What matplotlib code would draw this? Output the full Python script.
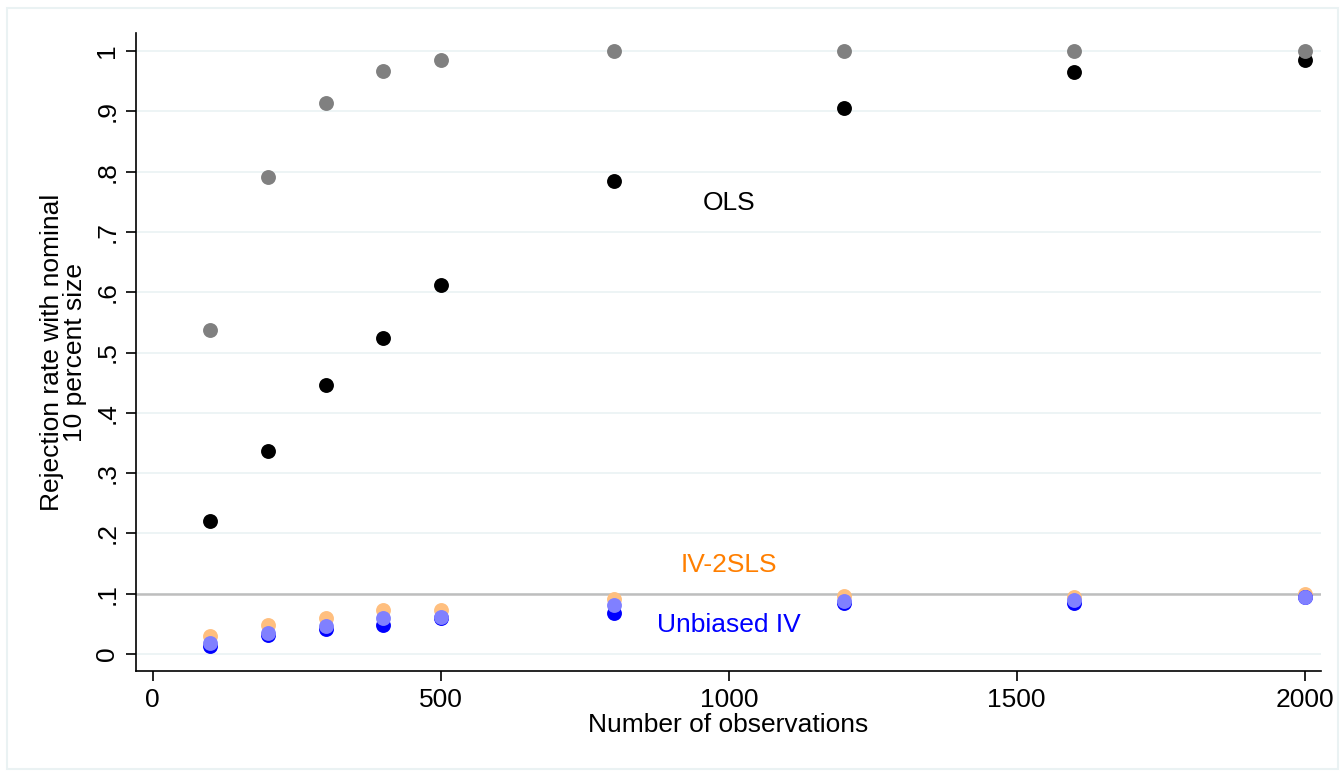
import matplotlib
matplotlib.use("Agg")
import matplotlib.pyplot as plt
from matplotlib.patches import Rectangle

plt.rcParams["font.family"] = ["Liberation Sans", "DejaVu Sans"]

n_obs = [100, 200, 300, 400, 500, 800, 1200, 1600, 2000]

ols_strong = [0.537, 0.791, 0.914, 0.967, 0.985, 1.0, 1.0, 1.0, 1.0]
ols = [0.221, 0.337, 0.446, 0.524, 0.612, 0.784, 0.905, 0.965, 0.985]
iv_2sls = [0.030, 0.049, 0.060, 0.073, 0.073, 0.092, 0.096, 0.095, 0.100]
unbiased_iv = [0.013, 0.031, 0.041, 0.049, 0.060, 0.068, 0.084, 0.085, 0.094]
unbiased_iv2 = [0.019, 0.035, 0.046, 0.060, 0.061, 0.081, 0.088, 0.089, 0.095]

y_ticks = [0, 0.1, 0.2, 0.3, 0.4, 0.5, 0.6, 0.7, 0.8, 0.9, 1.0]
y_labels = ["0", ".1", ".2", ".3", ".4", ".5", ".6", ".7", ".8", ".9", "1"]
x_ticks = [0, 500, 1000, 1500, 2000]


def main():
    fig = plt.figure(figsize=(13.41, 7.71), dpi=100)
    ax = fig.add_axes([0.1014, 0.1297, 0.8837, 0.8275])

    # stata-ish outer frame
    fig.patches.append(Rectangle((0.005, 0.003), 0.993, 0.987, transform=fig.transFigure,
                                 fill=False, edgecolor="#EAF2F3", lw=1.5))

    for t in y_ticks:
        ax.axhline(t, color="#EAF2F3", lw=1.2, zorder=0)
    ax.axhline(0.1, color="#BEBEBE", lw=1.8, zorder=1)

    s = 115
    ax.scatter(n_obs, ols_strong, s=s, color="#808080", lw=0, zorder=3)
    ax.scatter(n_obs, ols, s=s, color="black", lw=0, zorder=2)
    ax.scatter(n_obs, iv_2sls, s=s, color="#FFBF7F", lw=0, zorder=3)
    ax.scatter(n_obs, unbiased_iv, s=s, color="#0000FF", lw=0, zorder=4)
    ax.scatter(n_obs, unbiased_iv2, s=s, color="#8080FF", lw=0, zorder=5)

    fs = 19
    ax.text(1000, 0.748, "OLS", fontsize=fs, color="black", ha="center", va="center")
    ax.text(1000, 0.148, "IV-2SLS", fontsize=fs, color="#FF7F00", ha="center", va="center")
    ax.text(1000, 0.048, "Unbiased IV", fontsize=fs, color="#0000FF", ha="center", va="center")

    ax.set_xlim(-29.2, 2028.3)
    ax.set_ylim(-0.028, 1.0298)
    ax.set_xticks(x_ticks)
    ax.set_yticks(y_ticks)
    ax.set_yticklabels(y_labels, rotation=90, va="center")
    ax.tick_params(axis="both", length=7, width=1.2, labelsize=fs, direction="out", pad=5)

    for side in ["top", "right"]:
        ax.spines[side].set_visible(False)
    for side in ["left", "bottom"]:
        ax.spines[side].set_linewidth(1.2)

    ax.set_xlabel("Number of observations", fontsize=fs, labelpad=1)
    ax.set_ylabel("Rejection rate with nominal\n10 percent size", fontsize=fs, labelpad=6,
                  linespacing=0.95)

    fig.savefig("out.png", dpi=100)


if __name__ == "__main__":
    main()
